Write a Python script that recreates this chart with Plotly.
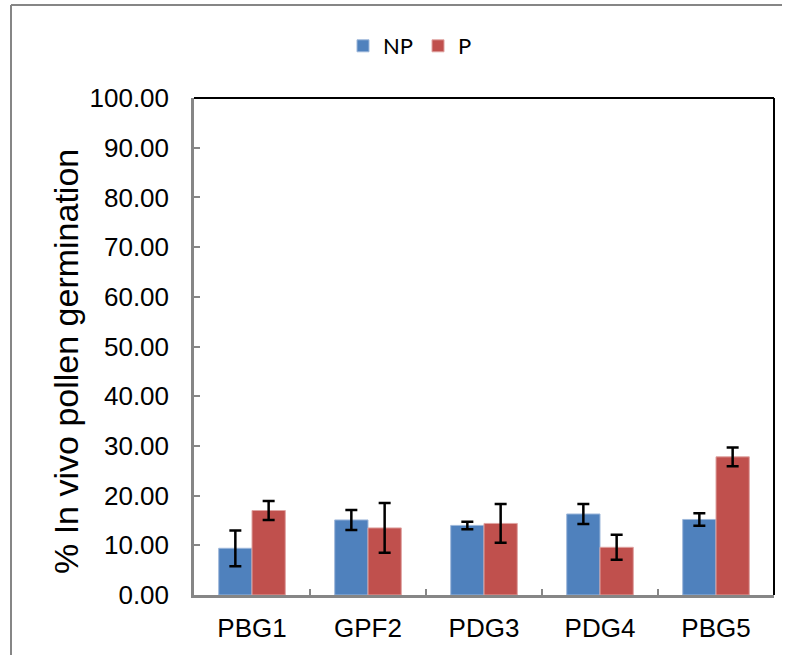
import plotly.graph_objects as go

categories = ["PBG1", "GPF2", "PDG3", "PDG4", "PBG5"]
np_values = [9.4, 15.1, 14.0, 16.3, 15.2]
np_errors = [3.6, 2.0, 0.75, 2.0, 1.25]
p_values = [17.0, 13.5, 14.4, 9.6, 27.8]
p_errors = [1.9, 5.0, 3.9, 2.5, 1.9]
y_tickvals = [0, 10, 20, 30, 40, 50, 60, 70, 80, 90, 100]
y_ticktext = [f"{v:.2f}" for v in y_tickvals]

W, H = 791, 655
L, T = 194, 98
R = W - 774
B = H - 595
pw = W - L - R
ph = H - T - B

def px_x(x):
    return (x - L) / pw

def px_y(y):
    return 1 - (y - T) / ph

fig = go.Figure()
fig.add_trace(go.Bar(
    name="NP", x=categories, y=np_values,
    marker=dict(color="#4F81BD", line=dict(color="#9DB7DA", width=1)),
    error_y=dict(type="data", array=np_errors, visible=True, color="black", thickness=2.5, width=6),
))
fig.add_trace(go.Bar(
    name="P", x=categories, y=p_values,
    marker=dict(color="#C0504D", line=dict(color="#DFA3A1", width=1)),
    error_y=dict(type="data", array=p_errors, visible=True, color="black", thickness=2.5, width=6),
))

fig.update_layout(
    width=W, height=H,
    margin=dict(l=L, r=R, t=T, b=B),
    paper_bgcolor="white", plot_bgcolor="white",
    barmode="group", bargap=0.426, bargroupgap=0,
    font=dict(family="Liberation Sans, Arial", color="black"),
    showlegend=True,
    legend=dict(orientation="h", x=px_x(410), y=px_y(46), xanchor="center", yanchor="middle",
                font=dict(family="Lato, Carlito, Calibri", size=22, color="black"),
                itemwidth=30, tracegroupgap=0),
)
fig.update_xaxes(
    showline=True, linecolor="#868686", linewidth=2.5,
    ticks="inside", tickson="boundaries", ticklen=6, tickcolor="#868686", tickwidth=2,
    tickfont=dict(size=26, family="Liberation Sans, Arial"),
    ticklabelstandoff=8,
    showgrid=False, zeroline=False,
)
fig.update_yaxes(
    range=[0, 100], tickvals=y_tickvals, ticktext=y_ticktext,
    showline=True, linecolor="#868686", linewidth=2.5,
    ticks="inside", ticklen=6, tickcolor="#868686", tickwidth=2,
    tickfont=dict(size=26, family="Liberation Sans, Arial"),
    ticklabelstandoff=17,
    showgrid=False, zeroline=False,
)
fig.add_annotation(
    text="% In vivo pollen germination", textangle=-90,
    xref="paper", yref="paper", x=px_x(66), y=px_y(362),
    xanchor="center", yanchor="middle", showarrow=False,
    font=dict(size=34, family="Liberation Sans, Arial", color="black"),
)
# plot-area top/right border
fig.add_shape(type="line", xref="paper", yref="paper", x0=0, x1=1, y0=1, y1=1,
              line=dict(color="black", width=2))
fig.add_shape(type="line", xref="paper", yref="paper", x0=1, x1=1, y0=0, y1=1,
              line=dict(color="black", width=2))
# outer chart border
fig.add_shape(type="line", xref="paper", yref="paper", x0=px_x(11), x1=px_x(782),
              y0=px_y(5), y1=px_y(5), line=dict(color="#868686", width=2))
fig.add_shape(type="line", xref="paper", yref="paper", x0=px_x(11), x1=px_x(11),
              y0=px_y(5), y1=px_y(670), line=dict(color="#868686", width=2))

fig.write_html("out.html", config={"displayModeBar": False},
               post_script="document.body.style.margin='0';")
